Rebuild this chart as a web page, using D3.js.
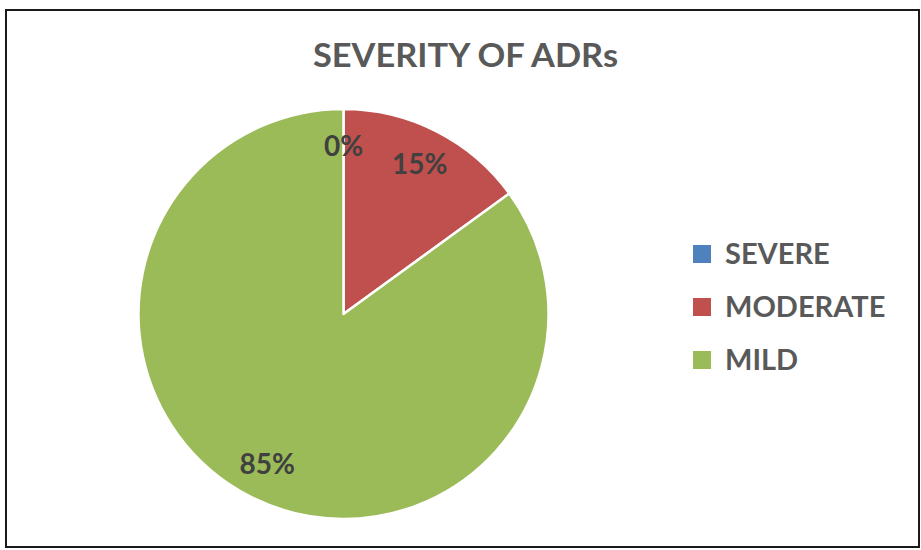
<!DOCTYPE html>
<html>
<head>
<meta charset="utf-8">
<script src="https://cdn.jsdelivr.net/npm/d3@7"></script>
<style>
  html, body { margin: 0; padding: 0; background: #ffffff; }
  svg { display: block; }
</style>
</head>
<body>
<svg id="chart" width="921" height="550"></svg>
<script>
// Severity categories and their share of adverse drug reactions (%)
const categories = ["SEVERE", "MODERATE", "MILD"];
const values = [0, 15, 85];
const labels = ["0%", "15%", "85%"];
const colors = ["#4F81BD", "#C0504D", "#9BBB59"];

const svg = d3.select("#chart");

// Frame around the chart area
svg.append("rect")
  .attr("x", 6).attr("y", 10)
  .attr("width", 913).attr("height", 537)
  .attr("fill", "#ffffff")
  .attr("stroke", "#1a1a1a")
  .attr("stroke-width", 2);

// Title
svg.append("text")
  .attr("x", 465.5).attr("y", 67)
  .attr("text-anchor", "middle")
  .attr("font-family", "Lato, 'Open Sans', sans-serif")
  .attr("font-weight", "bold")
  .attr("font-size", 33)
  .attr("fill", "#595959")
  .attr("textLength", 305)
  .attr("lengthAdjust", "spacingAndGlyphs")
  .text("SEVERITY OF ADRs");

// Pie, starting at 12 o'clock and running clockwise
const cx = 343.5, cy = 314, r = 205;
const pie = d3.pie().sort(null).value(d => d.value);
const arcs = pie(categories.map((c, i) => ({ cat: c, value: values[i], label: labels[i], color: colors[i] })));
const arc = d3.arc().innerRadius(0).outerRadius(r);

const g = svg.append("g").attr("transform", `translate(${cx},${cy})`);
g.selectAll("path.slice")
  .data(arcs)
  .join("path")
  .attr("class", "slice")
  .attr("d", arc)
  .attr("fill", d => d.data.color)
  .attr("stroke", "#ffffff")
  .attr("stroke-width", 2.5)
  .attr("stroke-linejoin", "round");

// Data labels inside each slice, on a ring at 82% of the radius
const labelArc = d3.arc().innerRadius(r * 0.82).outerRadius(r * 0.82);
g.selectAll("text.lbl")
  .data(arcs)
  .join("text")
  .attr("class", "lbl")
  .attr("transform", d => `translate(${labelArc.centroid(d)})`)
  .attr("text-anchor", "middle")
  .attr("dy", "0.36em")
  .attr("font-family", "Lato, 'Open Sans', sans-serif")
  .attr("font-weight", "bold")
  .attr("font-size", 28)
  .attr("fill", "#404040")
  .text(d => d.data.label);

// Legend
const legend = svg.append("g").attr("transform", "translate(693,254)");
const items = legend.selectAll("g.item")
  .data(categories)
  .join("g")
  .attr("class", "item")
  .attr("transform", (d, i) => `translate(0,${i * 53})`);
items.append("rect")
  .attr("x", 0).attr("y", -9)
  .attr("width", 18).attr("height", 18)
  .attr("fill", (d, i) => colors[i]);
items.append("text")
  .attr("x", 32).attr("y", 0)
  .attr("dy", "0.36em")
  .attr("font-family", "Lato, 'Open Sans', sans-serif")
  .attr("font-weight", "bold")
  .attr("font-size", 29)
  .attr("fill", "#595959")
  .text(d => d);
</script>
</body>
</html>
